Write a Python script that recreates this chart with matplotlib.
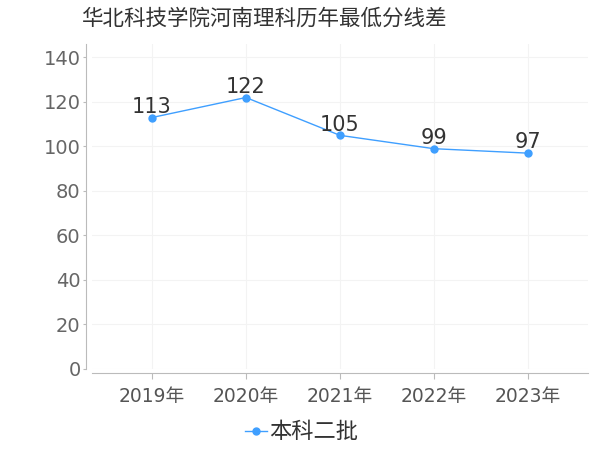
import matplotlib
matplotlib.use('Agg')
import matplotlib.pyplot as plt

plt.rcParams['font.family'] = ['DejaVu Sans', 'Noto Sans CJK SC']

years = ['2019年', '2020年', '2021年', '2022年', '2023年']
scores = [113, 122, 105, 99, 97]
series_name = '本科二批'
title = '华北科技学院河南理科历年最低分线差'

line_color = '#3f9fff'
cjk = ['Noto Sans CJK SC', 'DejaVu Sans']

fig = plt.figure(figsize=(6, 4.5), dpi=100)
ax = fig.add_axes([0.153, 0.18, 0.827, 0.722])

x = list(range(len(years)))
ax.plot(x, scores, color=line_color, lw=1, marker='o', ms=5, label=series_name)
for xi, v in zip(x, scores):
    ax.text(xi, v + 0.3, str(v), ha='center', va='bottom', fontsize=15, color='#333333')

ax.set_xlim(-0.64, 4.64)
ax.set_ylim(0, 146)
ax.set_yticks(range(0, 141, 20))
ax.set_xticks(x)
ax.set_xticklabels(years)

ax.grid(True, color='#f3f3f3', lw=0.8)
ax.set_axisbelow(True)
for s in ['top', 'right']:
    ax.spines[s].set_visible(False)
ax.spines['left'].set_position(('outward', 4))
ax.spines['bottom'].set_position(('outward', 3))
ax.spines['left'].set_color('#bbbbbb')
ax.spines['bottom'].set_color('#bbbbbb')
ax.tick_params(axis='y', labelsize=14, colors='#bbbbbb', labelcolor='#666666', length=2, pad=2)
ax.tick_params(axis='x', labelsize=13.5, colors='#bbbbbb', labelcolor='#555555', length=4, pad=6)

fig.text(0.44, 0.958, title, ha='center', va='center', fontsize=15.5, color='#333333', family=cjk)
fig.legend(loc='center', bbox_to_anchor=(0.503, 0.04), frameon=False,
           prop={'family': cjk, 'size': 16},
           handlelength=1.0, handletextpad=0.1, labelcolor='#333333')

fig.savefig('out.png', dpi=100)
